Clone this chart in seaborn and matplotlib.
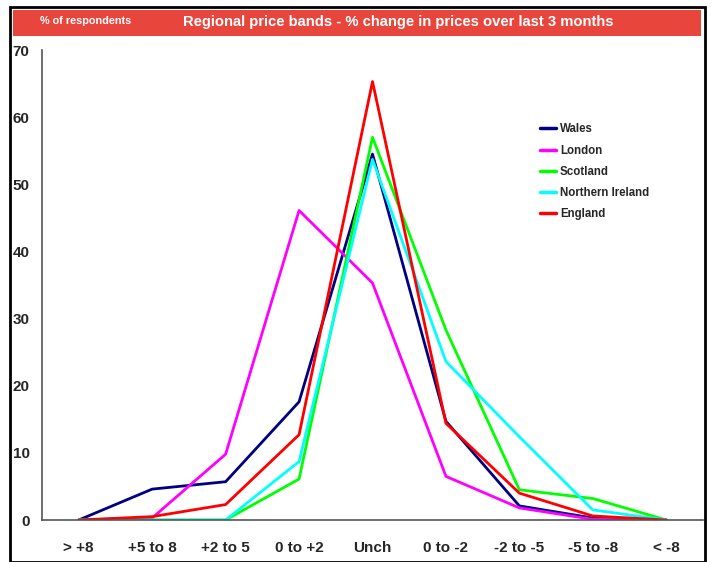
import pandas as pd
import matplotlib
matplotlib.use("Agg")
import matplotlib.pyplot as plt
import seaborn as sns
from matplotlib.patches import Rectangle

# data
bands = ["> +8", "+5 to 8", "+2 to 5", "0 to +2", "Unch", "0 to -2", "-2 to -5", "-5 to -8", "< -8"]
wales = [0, 4.6, 5.7, 17.6, 54.5, 14.7, 2.1, 0.3, 0]
london = [0, 0.3, 9.8, 46.1, 35.3, 6.5, 1.8, 0.1, 0]
scotland = [0, 0, 0, 6.1, 57.0, 28.3, 4.5, 3.2, 0]
n_ireland = [0, 0, 0, 8.7, 53.7, 23.6, 12.4, 1.5, 0]
england = [0, 0.5, 2.3, 12.7, 65.3, 14.4, 4.0, 0.6, 0]

regions = ["Wales", "London", "Scotland", "Northern Ireland", "England"]
colours = {"Wales": "#000080", "London": "#FF00FF", "Scotland": "#00FF00",
           "Northern Ireland": "#00FFFF", "England": "#FF0000"}

rows = []
for name, vals in zip(regions, [wales, london, scotland, n_ireland, england]):
    for b, v in zip(bands, vals):
        rows.append({"band": b, "value": v, "region": name})
df = pd.DataFrame(rows)

sns.set_style("white")
plt.rcParams["font.family"] = ["Liberation Sans", "DejaVu Sans"]

fig = plt.figure(figsize=(7.12, 5.62), dpi=100)
ax = fig.add_axes([42 / 712, 42 / 562, 661 / 712, 470 / 562])

sns.lineplot(data=df, x="band", y="value", hue="region", hue_order=regions,
             palette=colours, sort=False, linewidth=2, ax=ax)

ax.set_xlim(-0.5, 8.5)
ax.set_ylim(0, 70)
ax.set_yticks(range(0, 71, 10))
ax.set_xlabel("")
ax.set_ylabel("")
for s in ["top", "right"]:
    ax.spines[s].set_visible(False)
for s in ["left", "bottom"]:
    ax.spines[s].set_color("#555555")
    ax.spines[s].set_linewidth(1.2)
ax.tick_params(axis="both", length=0, labelsize=11)
ax.tick_params(axis="x", pad=15)
ax.tick_params(axis="y", pad=9)
for lab in ax.get_xticklabels() + ax.get_yticklabels():
    lab.set_fontweight("bold")

leg = ax.legend(loc="upper left", bbox_to_anchor=(0.738, 0.866), frameon=False,
                handlelength=1.4, handletextpad=0.3, labelspacing=0.8,
                prop={"weight": "bold", "size": 8.3})
for line in leg.get_lines():
    line.set_linewidth(2.5)

# outer border and red title banner
fig.patches.append(Rectangle((10 / 712, 0), 695 / 712, 555 / 562, transform=fig.transFigure,
                             fill=False, edgecolor="black", linewidth=2))
fig.patches.append(Rectangle((13 / 712, (562 - 36) / 562), 688 / 712, 26 / 562,
                             transform=fig.transFigure, facecolor="#E8463D", edgecolor="none"))
fig.text(40 / 712, (562 - 21) / 562, "% of respondents", color="white", fontsize=7.8,
         fontweight="bold", va="center", ha="left")
fig.text(398 / 712, (562 - 22) / 562, "Regional price bands - % change in prices over last 3 months",
         color="white", fontsize=10.6, fontweight="bold", va="center", ha="center")

fig.savefig("out.png", dpi=100)
